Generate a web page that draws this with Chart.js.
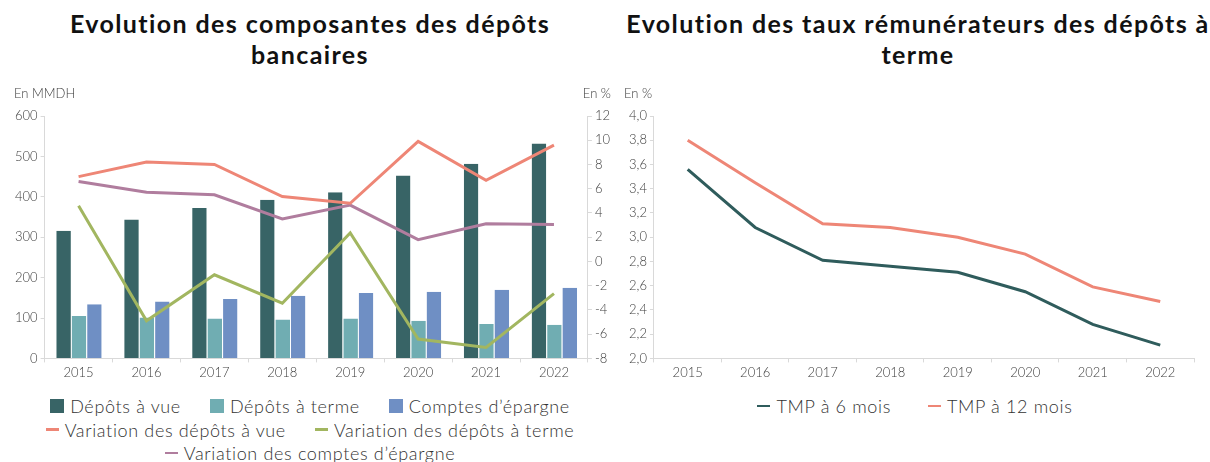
<!DOCTYPE html>
<html><head><meta charset="utf-8">
<script src="https://cdn.jsdelivr.net/npm/chart.js@4/dist/chart.umd.min.js"></script>
<style>
html,body{margin:0;padding:0;background:#fff;}
body{width:1210px;height:462px;position:relative;overflow:hidden;font-family:Lato,sans-serif;}
.wrap{position:absolute;top:0;height:462px;}
#w1{left:0;width:620px;}
#w2{left:620px;width:590px;}
canvas{position:absolute;left:0;top:0;}
.title{position:absolute;left:0;top:8px;width:100%;text-align:center;font-family:Lato,sans-serif;font-weight:bold;font-size:25px;line-height:31px;letter-spacing:1.4px;color:#111;white-space:nowrap;}
.legend{position:absolute;display:flex;flex-wrap:wrap;justify-content:center;column-gap:29px;row-gap:5.5px;font-size:18px;letter-spacing:0.65px;color:#333;font-weight:300;}
.item{display:flex;align-items:center;height:18px;white-space:nowrap;}
.sw{display:inline-block;margin-right:6px;flex:none;}
</style></head>
<body>
<div class="wrap" id="w1"><div class="title" id="t1"></div><canvas id="c1" width="620" height="390"></canvas><div class="legend" id="l1" style="left:30px;width:560px;top:397px;"></div></div>
<div class="wrap" id="w2"><div class="title" id="t2" style="left:3px;"></div><canvas id="c2" width="590" height="390"></canvas><div class="legend" id="l2" style="left:0;width:590px;top:397px;column-gap:37px;"></div></div>
<script>
const years = ['2015','2016','2017','2018','2019','2020','2021','2022'];
const depotsVue = [316,344,372,393,411,453,482,532];
const depotsTerme = [105,101,99,96,99,93,85,83];
const comptesEpargne = [134,141,147,155,162,165,170,175];
const varDepotsVue = [7.0,8.2,8.0,5.35,4.8,9.9,6.7,9.6];
const varDepotsTerme = [4.6,-4.9,-1.1,-3.45,2.35,-6.4,-7.1,-2.65];
const varComptesEpargne = [6.6,5.7,5.5,3.5,4.65,1.8,3.1,3.05];
const tmp6mois = [3.56,3.08,2.81,2.76,2.71,2.55,2.28,2.11];
const tmp12mois = [3.80,3.45,3.11,3.08,3.00,2.86,2.59,2.47];

const titleLeft = ['Evolution des composantes des dépôts','bancaires'];
const titleRight = ['Evolution des taux rémunérateurs des dépôts à','terme'];

document.getElementById('t1').innerHTML = titleLeft.join('<br>');
document.getElementById('t2').innerHTML = titleRight.join('<br>');

const TXT = '#404040', AX = '#d9d9d9';
const tickFont = {family:'Lato', size:13, weight:'300'};

const unitLabels = {
  id:'unitLabels',
  afterDraw(chart, args, opts){
    const ctx = chart.ctx; ctx.save();
    ctx.font = '300 13px Lato'; ctx.fillStyle = TXT; ctx.textBaseline = 'middle';
    (opts.items||[]).forEach(it=>{
      const s = chart.scales[it.scale];
      ctx.textAlign = it.align;
      const x = (it.align==='right' ? s.right : s.left) + (it.dx||0);
      ctx.fillText(it.text, x, chart.chartArea.top - 22);
    });
    ctx.restore();
  }
};

function yAxis(pos, min, max, step, cb){
  return {position:pos, min:min, max:max,
    border:{display:true,color:AX,width:1},
    grid:{display:true,drawOnChartArea:false,drawTicks:true,tickLength:4,color:AX},
    ticks:{stepSize:step,color:TXT,font:tickFont,padding:3,callback:cb}};
}
const xAxis = {offset:true,
  border:{display:true,color:AX,width:1},
  grid:{display:true,offset:true,drawOnChartArea:false,drawTicks:true,tickLength:4,color:AX},
  ticks:{color:TXT,font:tickFont,padding:3,maxRotation:0}};

const c1 = new Chart(document.getElementById('c1'), {
  data:{labels:years, datasets:[
    {type:'bar',label:'Dépôts à vue',data:depotsVue,backgroundColor:'#386466',yAxisID:'y',order:2,borderColor:'#fff',borderWidth:{left:1,right:0,top:0,bottom:0}},
    {type:'bar',label:'Dépôts à terme',data:depotsTerme,backgroundColor:'#70adb2',yAxisID:'y',order:2,borderColor:'#fff',borderWidth:{left:1,right:0,top:0,bottom:0}},
    {type:'bar',label:'Comptes d\u2019épargne',data:comptesEpargne,backgroundColor:'#6f8fc4',yAxisID:'y',order:2,borderColor:'#fff',borderWidth:{left:1,right:0,top:0,bottom:0}},
    {type:'line',label:'Variation des dépôts à vue',data:varDepotsVue,borderColor:'#ee8676',backgroundColor:'#ee8676',borderWidth:3,pointRadius:0,yAxisID:'y1',order:1},
    {type:'line',label:'Variation des dépôts à terme',data:varDepotsTerme,borderColor:'#a2b660',backgroundColor:'#a2b660',borderWidth:3,pointRadius:0,yAxisID:'y1',order:1},
    {type:'line',label:'Variation des comptes d\u2019épargne',data:varComptesEpargne,borderColor:'#b07d9e',backgroundColor:'#b07d9e',borderWidth:3,pointRadius:0,yAxisID:'y1',order:1}
  ]},
  options:{responsive:false,animation:false,devicePixelRatio:1,
    layout:{padding:{left:12,right:7,top:116,bottom:6}},
    datasets:{bar:{categoryPercentage:0.68,barPercentage:1}},
    plugins:{legend:{display:false},tooltip:{enabled:false},title:{display:false},
      unitLabels:{items:[{scale:'y',text:'En MMDH',align:'left',dx:2},{scale:'y1',text:'En %',align:'right',dx:-2}]}},
    scales:{x:xAxis,
      y:yAxis('left',0,600,100),
      y1:yAxis('right',-8,12,2)}
  },
  plugins:[unitLabels]
});

const c2 = new Chart(document.getElementById('c2'), {
  type:'line',
  data:{labels:years, datasets:[
    {label:'TMP à 6 mois',data:tmp6mois,borderColor:'#2f5c5c',backgroundColor:'#2f5c5c',borderWidth:3,pointRadius:0},
    {label:'TMP à 12 mois',data:tmp12mois,borderColor:'#ee8676',backgroundColor:'#ee8676',borderWidth:3,pointRadius:0}
  ]},
  options:{responsive:false,animation:false,devicePixelRatio:1,
    layout:{padding:{left:6,right:16,top:116,bottom:6}},
    plugins:{legend:{display:false},tooltip:{enabled:false},title:{display:false},
      unitLabels:{items:[{scale:'y',text:'En %',align:'left',dx:-2}]}},
    scales:{x:xAxis,
      y:yAxis('left',2,4,0.2,v=>v.toFixed(1).replace('.',','))}
  },
  plugins:[unitLabels]
});

function htmlLegend(chart, el){
  chart.data.datasets.forEach(ds=>{
    const it = document.createElement('div'); it.className='item';
    const sw = document.createElement('span'); sw.className='sw';
    if(ds.type==='bar'){ sw.style.width='14px'; sw.style.height='14px'; sw.style.background=ds.backgroundColor; }
    else { sw.style.width='13px'; sw.style.height='2.5px'; sw.style.background=ds.borderColor; }
    const tx = document.createElement('span'); tx.textContent = ds.label;
    it.appendChild(sw); it.appendChild(tx); el.appendChild(it);
  });
}
htmlLegend(c1, document.getElementById('l1'));
htmlLegend(c2, document.getElementById('l2'));
</script>
</body></html>
